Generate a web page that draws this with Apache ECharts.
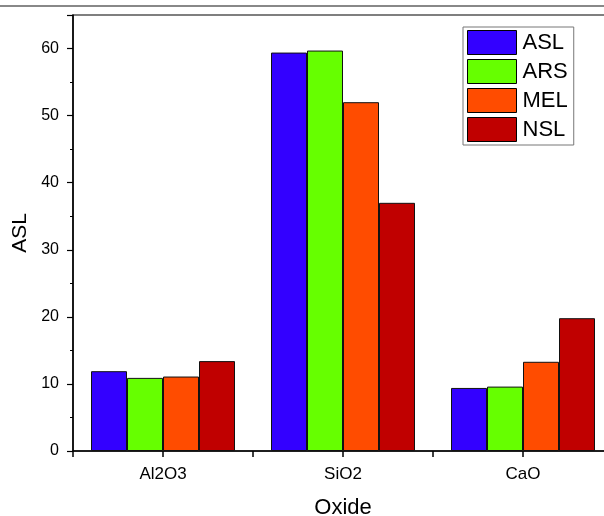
<!DOCTYPE html>
<html><head><meta charset="utf-8">
<script src="https://cdn.jsdelivr.net/npm/echarts@6/dist/echarts.min.js"></script>
<style>html,body{margin:0;padding:0;background:#fff}#c{width:604px;height:516px}</style>
</head><body><div id="c"></div>
<script>
const categories = ['Al2O3', 'SiO2', 'CaO'];
const seriesNames = ['ASL', 'ARS', 'MEL', 'NSL'];
const ASL = [11.9, 59.4, 9.4];
const ARS = [10.9, 59.7, 9.6];
const MEL = [11.1, 52.0, 13.3];
const NSL = [13.4, 37.0, 19.8];
const colors = ['#3300FF', '#66FF00', '#FF4C00', '#C00000'];
const values = [ASL, ARS, MEL, NSL];
const yTicks = [0, 10, 20, 30, 40, 50, 60];
const halfTicks = ['', '', '', '', '', ''];

const font = 'Liberation Sans, Arial, sans-serif';
const chart = echarts.init(document.getElementById('c'), null, {renderer: 'canvas'});
chart.setOption({
  animation: false,
  grid: {left: 73, right: -9, top: 15, bottom: 65, show: true, borderColor: '#000', borderWidth: 1.2,
    containLabel: false, outerBoundsMode: 'none'},
  graphic: [{type: 'line', shape: {x1: 0, y1: 6, x2: 604, y2: 6}, style: {stroke: '#888', lineWidth: 2}}],
  legend: {
    left: 463, top: 27, orient: 'vertical', itemWidth: 49, itemHeight: 24, itemGap: 4,
    padding: [3, 6, 3, 4], borderColor: '#777', borderWidth: 1, backgroundColor: '#fff',
    icon: 'rect', textStyle: {fontFamily: font, fontSize: 22, color: '#000', padding: [0, 0, 0, 1]},
    itemStyle: {borderColor: '#000', borderWidth: 1},
    data: seriesNames
  },
  xAxis: [{
    type: 'category', data: categories,
    axisLine: {lineStyle: {color: '#000', width: 1.5}},
    axisTick: {show: false},
    axisLabel: {fontFamily: font, fontSize: 17, color: '#000', margin: 15},
    name: 'Oxide', nameLocation: 'middle', nameGap: 46,
    nameTextStyle: {fontFamily: font, fontSize: 22, color: '#000'}
  }, {
    type: 'category', data: halfTicks, position: 'bottom',
    axisLine: {show: false}, axisLabel: {show: false}, splitLine: {show: false},
    axisTick: {show: true, interval: 0, alignWithLabel: false, length: 6, lineStyle: {color: '#000', width: 1.5}}
  }],
  yAxis: {
    type: 'value', min: 0, max: 65, interval: 10,
    axisLine: {show: true, lineStyle: {color: '#000', width: 1.5}},
    axisTick: {show: true, length: 6, lineStyle: {color: '#000', width: 1.2}},
    minorTick: {show: true, splitNumber: 2, length: 3, lineStyle: {color: '#000', width: 1}},
    splitLine: {show: false},
    axisLabel: {fontFamily: font, fontSize: 16, color: '#000', margin: 14,
      formatter: v => yTicks.includes(v) ? String(v) : ''},
    name: 'ASL', nameLocation: 'middle', nameGap: 41,
    nameTextStyle: {fontFamily: font, fontSize: 21, color: '#000'}
  },
  series: seriesNames.map((n, i) => ({
    name: n, type: 'bar', data: values[i], xAxisIndex: 0,
    barGap: '0%', barCategoryGap: '20%',
    itemStyle: {color: colors[i], borderColor: '#111', borderWidth: 1}
  }))
});
</script></body></html>
